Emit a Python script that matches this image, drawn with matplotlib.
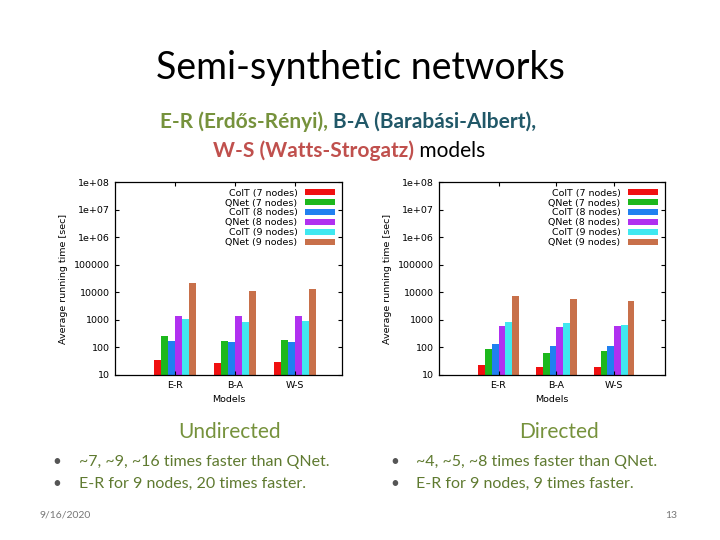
import matplotlib
matplotlib.use("Agg")
import matplotlib.pyplot as plt
import numpy as np
from matplotlib.ticker import FixedLocator, NullLocator
from matplotlib.text import Annotation

categories = ["E-R", "B-A", "W-S"]
series_labels = ["ColT (7 nodes)", "QNet (7 nodes)", "ColT (8 nodes)",
                 "QNet (8 nodes)", "ColT (9 nodes)", "QNet (9 nodes)"]
colors = ["#f01010", "#1cb81c", "#2080f0", "#b030f0", "#40e8f0", "#c8704a"]

undirected = [
    [35, 27, 30],
    [250, 170, 190],
    [170, 155, 155],
    [1400, 1400, 1350],
    [1100, 850, 900],
    [21000, 11000, 13000],
]
directed = [
    [23, 20, 20],
    [85, 62, 75],
    [130, 115, 115],
    [620, 530, 600],
    [850, 750, 650],
    [7500, 5800, 4700],
]
ytick_vals = [10, 100, 1000, 10000, 100000, 1e6, 1e7, 1e8]
ytick_labels = ["10", "100", "1000", "10000", "100000", "1e+06", "1e+07", "1e+08"]

W, H = 720, 540
fig = plt.figure(figsize=(7.2, 5.4), dpi=100)
plt.rcParams['font.family'] = ['Lato', 'DejaVu Sans']

def px(x0, y0, x1, y1):
    return [x0 / W, 1 - y1 / H, (x1 - x0) / W, (y1 - y0) / H]

def draw(rect, data, xlim):
    ax = fig.add_axes(rect)
    n = len(data)
    bw = 0.117
    x = np.arange(len(categories))
    for i, (vals, lab, c) in enumerate(zip(data, series_labels, colors)):
        ax.bar(x + (i - (n - 1) / 2) * bw, vals, bw, color=c, label=lab)
    ax.set_yscale("log")
    ax.set_ylim(10, 1e8)
    ax.set_xlim(*xlim)
    ax.yaxis.set_major_locator(FixedLocator(ytick_vals))
    ax.set_yticklabels(ytick_labels, family="DejaVu Sans")
    ax.yaxis.set_minor_locator(NullLocator())
    ax.set_xticks(x)
    ax.set_xticklabels(categories, family="DejaVu Sans")
    ax.tick_params(direction="in", labelsize=6.8, length=3, top=True, right=True, pad=4)
    for s in ax.spines.values():
        s.set_linewidth(0.9)
    ax.set_ylabel("Average running time [sec]", fontsize=6.8, family="DejaVu Sans")
    ax.set_xlabel("Models", fontsize=6.8, family="DejaVu Sans")
    ax.legend(loc="upper right", frameon=False, markerfirst=False,
              prop={"family": "DejaVu Sans", "size": 6.8}, handlelength=3.2,
              handleheight=0.6, labelspacing=0.1, borderaxespad=0.3)
    return ax

draw(px(115, 182, 342, 375), undirected, (-1.0, 2.78))
draw(px(439, 182, 665, 375), directed, (-1.03, 2.88))

fig.text(0.5, 1 - 68 / H, "Semi-synthetic networks", ha="center", va="center", fontsize=27)

olive = "#76923c"
teal = "#215868"
red = "#c0504d"

def seq(x, y, parts, size=15):
    prev = fig.text(x / W, 1 - y / H, parts[0][0], color=parts[0][1], fontsize=size,
                    fontweight=parts[0][2], va="baseline", ha="left")
    for s, c, w in parts[1:]:
        prev = fig.add_artist(Annotation(s, xy=(1, 0), xycoords=prev, color=c, fontsize=size,
                                         fontweight=w, va="bottom", ha="left"))

seq(160, 128, [("E-R (Erdős-Rényi), ", olive, "bold"), ("B-A (Barabási-Albert),", teal, "bold")])
seq(213, 157, [("W-S (Watts-Strogatz)", red, "bold"), (" models", "black", "normal")])

fig.text(230 / W, 1 - 432 / H, "Undirected", color=olive, fontsize=15, ha="center", va="center")
fig.text(559 / W, 1 - 432 / H, "Directed", color=olive, fontsize=15, ha="center", va="center")

bul = [(57, 79, 462, "~7, ~9, ~16 times faster than QNet."),
       (57, 79, 484, "E-R for 9 nodes, 20 times faster."),
       (395, 416, 462, "~4, ~5, ~8 times faster than QNet."),
       (395, 416, 484, "E-R for 9 nodes, 9 times faster.")]
for bx, tx, y, s in bul:
    fig.text(bx / W, 1 - y / H, "•", color="#555555", fontsize=11, ha="center", va="center")
    fig.text(tx / W, 1 - y / H, s, color="#5f7a30", fontsize=11.5, ha="left", va="center")

fig.text(40 / W, 1 - 515 / H, "9/16/2020", color="#777777", fontsize=7.5, va="center")
fig.text(677 / W, 1 - 515 / H, "13", color="#777777", fontsize=7.5, va="center", ha="right")

fig.savefig("out.png", dpi=100)
